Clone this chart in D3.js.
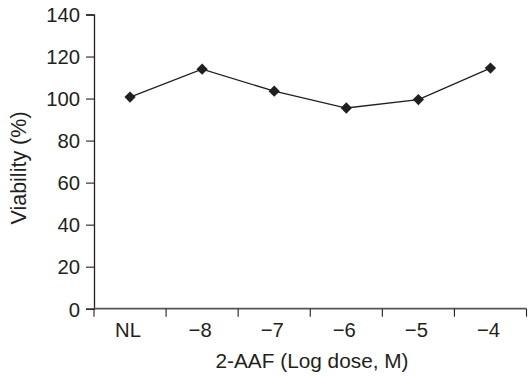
<!DOCTYPE html>
<html><head><meta charset="utf-8">
<script src="https://cdn.jsdelivr.net/npm/d3@7"></script>
<style>
body{margin:0;background:#fff;}
svg text{font-family:"Liberation Sans",Arial,sans-serif;fill:#231f20;}
</style></head>
<body><svg id="c" width="528" height="376"></svg>
<script>
const categories = ["NL", "\u22128", "\u22127", "\u22126", "\u22125", "\u22124"];
const viability = [100.7, 114, 103.5, 95.5, 99.5, 114.5];
const yTicks = [0, 20, 40, 60, 80, 100, 120, 140];
const xTitle = "2-AAF (Log dose, M)";
const yTitle = "Viability (%)";

(function () {
const svg = d3.select("#c");
const mLeft = 94, mRight = 526.5, mTop = 14.5, mBottom = 308.7;
const x = d3.scaleBand().domain(categories).range([mLeft, mRight]);
const y = d3.scaleLinear().domain([0, 140]).range([mBottom, mTop]);
const ink = "#231f20";

// y axis
const ya = svg.append("g").attr("transform", `translate(${mLeft},0)`)
  .call(d3.axisLeft(y).tickValues(yTicks).tickSize(8).tickPadding(6));
ya.select(".domain").attr("stroke", ink).attr("stroke-width", 1.3);
ya.selectAll(".tick line").attr("stroke", ink).attr("stroke-width", 1.1);
ya.selectAll(".tick text").attr("font-size", 20.3).attr("fill", ink).attr("dy", "0.36em")
  .attr("font-family", "Liberation Sans, Arial, sans-serif");

// x axis: domain line + boundary ticks
const xa = svg.append("g").attr("transform", `translate(0,${mBottom})`);
xa.append("line").attr("x1", mLeft).attr("x2", mRight).attr("y1", 0).attr("y2", 0)
  .attr("stroke", "#555").attr("stroke-width", 1.8);
const bounds = categories.map(c => x(c)).concat([x(categories[categories.length-1]) + x.bandwidth()]);
xa.selectAll("line.tk").data(bounds).enter().append("line").attr("class","tk")
  .attr("x1", d => d).attr("x2", d => d).attr("y1", 0).attr("y2", 8)
  .attr("stroke", ink).attr("stroke-width", 1.1);
xa.selectAll("text").data(categories).enter().append("text")
  .attr("x", d => x(d) + x.bandwidth()/2 - 2).attr("y", 28.5)
  .attr("text-anchor", "middle").attr("font-size", 20.3).text(d => d);

// titles
svg.append("text").attr("x", 312).attr("y", 368).attr("text-anchor", "middle")
  .attr("font-size", 20.8).text(xTitle);
svg.append("text").attr("transform", "translate(26,168) rotate(-90)")
  .attr("text-anchor", "middle").attr("font-size", 21.5).text(yTitle);

// line
const cx = (d, i) => x(categories[i]) + x.bandwidth()/2;
svg.append("path").datum(viability)
  .attr("d", d3.line().x(cx).y(d => y(d)))
  .attr("fill", "none").attr("stroke", ink).attr("stroke-width", 1.3);
svg.selectAll("path.m").data(viability).enter().append("path").attr("class","m")
  .attr("d", d3.symbol().type(d3.symbolSquare).size(64))
  .attr("transform", (d, i) => `translate(${cx(d, i)},${y(d)}) rotate(45)`)
  .attr("fill", ink);
})();
</script></body></html>
